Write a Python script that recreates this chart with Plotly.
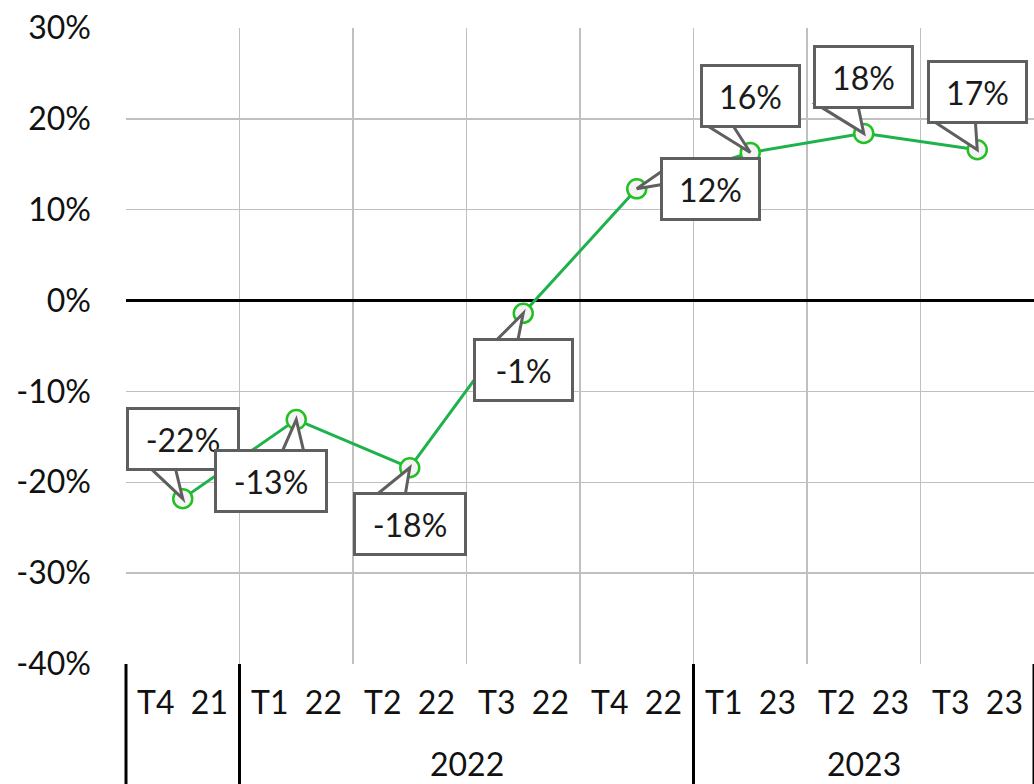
import plotly.graph_objects as go

# ---- data ----
categories = ["T4 21", "T1 22", "T2 22", "T3 22", "T4 22", "T1 23", "T2 23", "T3 23"]
groups = ["", "2022", "2022", "2022", "2022", "2023", "2023", "2023"]
values = [-21.8, -13.1, -18.4, -1.4, 12.3, 16.3, 18.4, 16.6]
y_ticks = [-40, -30, -20, -10, 0, 10, 20, 30]

# ---- callout styling (pixel offsets of box centre from the point, and pointer base) ----
box_offsets = [(0, -60), (-25, 61), (0, 56), (0, 57), (74, 0), (0, -56), (0, -56), (0, -58)]
pointer_paths = [
    "M0,0 L-35,33 L-8,33 Z",
    "M0,0 L-15,-34 L8,-34 Z",
    "M0,0 L-37,-30 L-5,-30 Z",
    "M0,0 L-30,-30 L-6,-30 Z",
    "M0,0 L30,21 L30,5 Z",
    "M0,0 L-45,28 L-18,28 Z",
    "M0,0 L-47,29 L-6,29 Z",
    "M0,0 L-46,30 L-2,30 Z",
]

FONT = "Lato"
FS = 32
GREEN = "#1db24b"
CALLOUT_BORDER = "#5f5f5f"
GRID = "#c0c0c0"

fig = go.Figure()
fig.add_trace(go.Scatter(
    x=categories, y=values, mode="lines+markers",
    line=dict(color=GREEN, width=3),
    marker=dict(symbol="circle", size=19, color="#f4f4f4",
                line=dict(color="#22c022", width=2.5)),
    showlegend=False, hoverinfo="skip", cliponaxis=False,
))

shapes = []
annotations = []

# callouts
for i, (v, (dx, dy), p) in enumerate(zip(values, box_offsets, pointer_paths)):
    txt = f"{round(v):d}%"
    shapes.append(dict(type="path", xref="x", yref="y", xsizemode="pixel", ysizemode="pixel",
                       xanchor=i, yanchor=v, path=p, fillcolor="white",
                       line=dict(color=CALLOUT_BORDER, width=3), layer="above"))
    annotations.append(dict(
        x=categories[i], y=v, xref="x", yref="y", showarrow=False,
        text=txt, xshift=dx, yshift=-dy,
        width=13 * len(txt) + 40, height=42,
        font=dict(family=FONT, size=FS, color="#1a1a1a"),
        bgcolor="white", bordercolor=CALLOUT_BORDER, borderwidth=3, borderpad=8,
        xanchor="center", yanchor="middle", align="center", valign="middle",
    ))

n = len(categories)
label_h = 120 / 636.0

# quarter labels
for c in categories:
    annotations.append(dict(
        x=c, y=0, xref="x", yref="paper", showarrow=False,
        text=c.replace(" ", "\u00a0\u00a0"), yshift=-37,
        font=dict(family=FONT, size=FS, color="#111111"),
        xanchor="center", yanchor="middle",
    ))

# group labels and dividers
bounds = [0]
for i in range(1, n):
    if groups[i] != groups[i - 1]:
        bounds.append(i)
bounds.append(n)
for a, b in zip(bounds[:-1], bounds[1:]):
    if groups[a]:
        annotations.append(dict(
            x=(a + b - 1) / 2.0, y=0, xref="x", yref="paper", showarrow=False,
            text=groups[a], yshift=-99,
            font=dict(family=FONT, size=FS, color="#111111"),
            xanchor="center", yanchor="middle",
        ))
for bnd in bounds:
    shapes.append(dict(type="line", xref="paper", yref="paper",
                       x0=bnd / n, x1=bnd / n, y0=0, y1=-label_h,
                       line=dict(color="black", width=3)))

fig.update_layout(
    width=1034, height=784,
    margin=dict(l=126, r=0, t=28, b=120, autoexpand=False),
    paper_bgcolor="white", plot_bgcolor="white",
    shapes=shapes, annotations=annotations,
    xaxis=dict(type="category", range=[-0.5, n - 0.5], showticklabels=False,
               showgrid=True, gridcolor=GRID, gridwidth=1.5, tickson="boundaries",
               ticks="", zeroline=False, showline=False, fixedrange=True,
               automargin=False),
    yaxis=dict(range=[-40, 30], tickvals=y_ticks, ticktext=[f"{t}%" for t in y_ticks],
               showgrid=True, gridcolor=GRID, gridwidth=1.5,
               zeroline=True, zerolinecolor="black", zerolinewidth=2.5,
               ticks="", ticklabelstandoff=34, showline=False, automargin=False,
               fixedrange=True,
               tickfont=dict(family=FONT, size=FS, color="#111111")),
)

fig.write_html(
    "out.html",
    config={"displayModeBar": False, "staticPlot": True},
    post_script="document.body.style.margin='0';document.body.style.padding='0';"
                "document.body.style.overflow='hidden';",
)
